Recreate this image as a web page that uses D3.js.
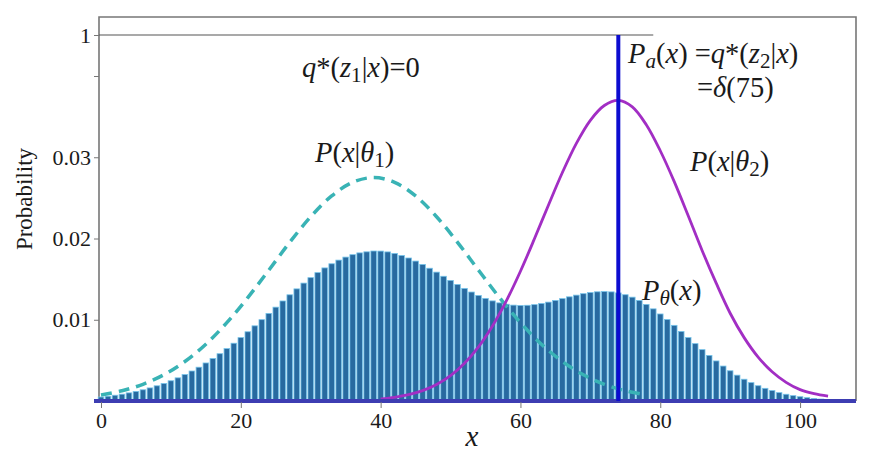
<!DOCTYPE html>
<html>
<head>
<meta charset="utf-8">
<script src="https://cdn.jsdelivr.net/npm/d3@7"></script>
<style>
  body { margin: 0; background: #fff; }
  text { font-family: "Liberation Serif", "Times New Roman", serif; fill: #1a1a1a; }
</style>
</head>
<body>
<div id="chart"></div>
<script>
// x ticks and y ticks (y axis is broken above 0.04 up to 1)
const xTicks = [0, 20, 40, 60, 80, 100];
const yTicks = [0.01, 0.02, 0.03, 0.04, 1];
const yTickLabels = ["0.01", "0.02", "0.03", "", "1"];

// P_theta(x) bars, one per integer x from 0 to 104
const barX = d3.range(0, 105);
const barP = [
  0.00049, 0.00059, 0.00071, 0.00084, 0.00100, 0.00118, 0.00138, 0.00161, 0.00187, 0.00216,
  0.00249, 0.00285, 0.00325, 0.00369, 0.00416, 0.00468, 0.00523, 0.00582, 0.00645, 0.00711,
  0.00780, 0.00852, 0.00925, 0.01001, 0.01078, 0.01155, 0.01231, 0.01307, 0.01380, 0.01451,
  0.01518, 0.01580, 0.01638, 0.01689, 0.01734, 0.01771, 0.01801, 0.01823, 0.01836, 0.01846,
  0.01845, 0.01835, 0.01816, 0.01791, 0.01760, 0.01722, 0.01681, 0.01634, 0.01586, 0.01535,
  0.01484, 0.01434, 0.01386, 0.01341, 0.01299, 0.01263, 0.01232, 0.01208, 0.01191, 0.01180,
  0.01176, 0.01178, 0.01186, 0.01200, 0.01217, 0.01238, 0.01260, 0.01282, 0.01303, 0.01321,
  0.01335, 0.01344, 0.01347, 0.01343, 0.01330, 0.01308, 0.01278, 0.01238, 0.01189, 0.01134,
  0.01071, 0.01003, 0.00931, 0.00856, 0.00781, 0.00706, 0.00632, 0.00561, 0.00493, 0.00430,
  0.00372, 0.00318, 0.00268, 0.00226, 0.00188, 0.00156, 0.00128, 0.00103, 0.00083, 0.00066,
  0.00053, 0.00041, 0.00032, 0.00024, 0.00019
];

// P(x|theta1), dashed
const theta1X = [0, 3, 6, 9, 12, 15, 18, 21, 24, 27, 30, 33, 36, 39, 42, 45, 48, 51, 54, 57, 60, 63, 66, 69, 72, 75, 78];
const theta1P = [0.00074, 0.00126, 0.00206, 0.00323, 0.00486, 0.00699, 0.00964, 0.01273, 0.01610, 0.01953,
  0.02268, 0.02524, 0.02692, 0.02750, 0.02692, 0.02524, 0.02268, 0.01953, 0.01610, 0.01273,
  0.00964, 0.00699, 0.00486, 0.00323, 0.00206, 0.00126, 0.00074];

// P(x|theta2), solid
const theta2X = [40, 42, 44, 46, 48, 50, 52, 54, 56, 58, 60, 62, 64, 66, 68, 70, 72, 74, 76, 78, 80, 82, 84, 86, 88, 90, 92, 94, 96, 98, 100, 102, 104];
const theta2P = [0.00026, 0.00046, 0.00078, 0.00128, 0.00204, 0.00313, 0.00465, 0.00666, 0.00923, 0.01235,
  0.01597, 0.01996, 0.02410, 0.02812, 0.03171, 0.03455, 0.03637, 0.03700, 0.0362, 0.0340,
  0.0308, 0.0270, 0.0228, 0.0185, 0.0145, 0.0108, 0.0078, 0.0054, 0.0036, 0.0023,
  0.0014, 0.0009, 0.0006];

// P_a(x) = delta spike
const deltaX = 74;
const deltaP = 1;

const width = 875, height = 459;

const x = d3.scaleLinear().domain([0, 108]).range([101, 856]);
const y = d3.scaleLinear().domain([0, 0.04, 1]).range([401, 76, 35]);

const svg = d3.select("#chart").append("svg")
  .attr("width", width).attr("height", height)
  .attr("viewBox", [0, 0, width, height]);

// frame
svg.append("path")
  .attr("d", `M${x(0) - 2},${y(0)}V17H${x(108)}V${y(0)}`)
  .attr("fill", "none").attr("stroke", "#777").attr("stroke-width", 1.6);

// line at probability 1
svg.append("line")
  .attr("x1", x(0) - 2).attr("x2", x(79))
  .attr("y1", y(1)).attr("y2", y(1))
  .attr("stroke", "#555").attr("stroke-width", 1.2);

// bars
svg.append("g")
  .selectAll("rect")
  .data(barX)
  .join("rect")
  .attr("x", d => x(d) - 2.8)
  .attr("width", 5.6)
  .attr("y", (d, i) => y(barP[i]))
  .attr("height", (d, i) => y(0) - y(barP[i]))
  .attr("fill", "#286aa0")
  .attr("stroke", "#76c4ea")
  .attr("stroke-width", 0.8);

// dashed P(x|theta1)
const line = d3.line().curve(d3.curveCatmullRom);
svg.append("path")
  .attr("d", line(theta1X.map((d, i) => [x(d), y(theta1P[i])])))
  .attr("fill", "none")
  .attr("stroke", "#39b3b5")
  .attr("stroke-width", 3.5)
  .attr("stroke-dasharray", "11,7");

// solid P(x|theta2)
svg.append("path")
  .attr("d", line(theta2X.map((d, i) => [x(d), y(theta2P[i])])))
  .attr("fill", "none")
  .attr("stroke", "#a22ec4")
  .attr("stroke-width", 2.8);

// baseline
svg.append("line")
  .attr("x1", x(0) - 7).attr("x2", x(108))
  .attr("y1", y(0)).attr("y2", y(0))
  .attr("stroke", "#3d3db2").attr("stroke-width", 4);

// delta spike
svg.append("line")
  .attr("x1", x(deltaX)).attr("x2", x(deltaX))
  .attr("y1", y(0)).attr("y2", y(deltaP))
  .attr("stroke", "#0c0cd0").attr("stroke-width", 4);

// axes
svg.append("g")
  .attr("transform", `translate(0,${y(0) + 1})`)
  .call(d3.axisBottom(x).tickValues(xTicks).tickSize(6).tickPadding(4))
  .call(g => g.select(".domain").remove())
  .call(g => g.selectAll("line").attr("stroke", "#777"))
  .call(g => g.selectAll("text").attr("font-size", 22));

svg.append("g")
  .attr("transform", `translate(${x(0) - 2},0)`)
  .call(d3.axisLeft(y).tickValues(yTicks).tickFormat((d, i) => yTickLabels[i]).tickSize(5).tickPadding(3))
  .call(g => g.select(".domain").remove())
  .call(g => g.selectAll("line").attr("stroke", "#777"))
  .call(g => g.selectAll("text").attr("font-size", 22));

svg.append("text")
  .attr("transform", "translate(32,199) rotate(-90)")
  .attr("text-anchor", "middle")
  .attr("font-size", 23)
  .text("Probability");

svg.append("text")
  .attr("x", 472).attr("y", 446)
  .attr("text-anchor", "middle")
  .attr("font-size", 29)
  .attr("font-style", "italic")
  .text("x");

// annotations: [text, style] with i = italic, n = normal, s = subscript
function label(px, py, parts, size = 28.5) {
  const t = svg.append("text").attr("x", px).attr("y", py).attr("font-size", size);
  let shifted = false;
  parts.forEach(([s, st]) => {
    const sp = t.append("tspan").text(s);
    const sub = st.includes("s");
    if (st.includes("i")) sp.attr("font-style", "italic");
    if (sub) sp.attr("font-size", size * 0.74);
    if (sub && !shifted) { sp.attr("dy", size * 0.17); shifted = true; }
    else if (!sub && shifted) { sp.attr("dy", -size * 0.17); shifted = false; }
  });
}

label(302, 77, [["q", "i"], ["*(", "n"], ["z", "i"], ["1", "s"], ["|", "n"], ["x", "i"], [")=0", "n"]]);
label(315, 162, [["P", "i"], ["(", "n"], ["x", "i"], ["|", "n"], ["θ", "i"], ["1", "s"], [")", "n"]]);
label(628, 63, [["P", "i"], ["a", "is"], ["(", "n"], ["x", "i"], [") =", "n"], ["q", "i"], ["*(", "n"], ["z", "i"], ["2", "s"], ["|", "n"], ["x", "i"], [")", "n"]]);
label(697, 97, [["=", "n"], ["δ", "i"], ["(75)", "n"]]);
label(690, 171, [["P", "i"], ["(", "n"], ["x", "i"], ["|", "n"], ["θ", "i"], ["2", "s"], [")", "n"]]);
label(642, 300, [["P", "i"], ["θ", "is"], ["(", "n"], ["x", "i"], [")", "n"]]);
</script>
</body>
</html>
